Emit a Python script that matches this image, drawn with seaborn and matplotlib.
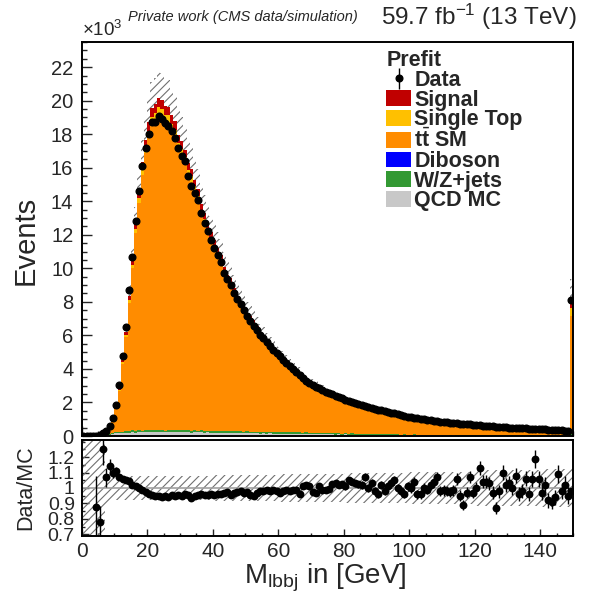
import numpy as np
import pandas as pd
import seaborn as sns
import matplotlib
matplotlib.use("Agg")
import matplotlib.pyplot as plt
from matplotlib.ticker import MultipleLocator, FixedLocator, FixedFormatter
from matplotlib.patches import Patch

sns.set_theme(style="ticks")
plt.rcParams['font.family'] = ['Liberation Sans', 'DejaVu Sans']
plt.rcParams['mathtext.fontset'] = 'custom'
plt.rcParams['mathtext.rm'] = 'Liberation Sans'
plt.rcParams['mathtext.it'] = 'Liberation Sans:italic'
plt.rcParams['mathtext.bf'] = 'Liberation Sans:bold'
plt.rcParams['hatch.linewidth'] = 0.8

# ---------------- data (thousands of events per 1 GeV bin, 0..150 GeV) -------------
bin_lo, bin_hi, bin_w = 0, 150, 1

data_k = [0.005, 0.005, 0.01, 0.015, 0.02, 0.06, 0.15, 0.3, 0.6, 1.06,
          1.86, 3.05, 4.8, 6.5, 8.7, 10.7, 12.8, 14.6, 16.1, 17.2,
          18.0, 18.7, 18.75, 19.1, 18.9, 18.65, 18.5, 18.2, 17.8, 17.15,
          16.7, 16.4, 15.5, 14.9, 14.5, 14.1, 13.3, 12.7, 12.2, 11.7,
          11.2, 10.8, 10.4, 9.75, 9.35, 9.0, 8.55, 8.15, 7.85, 7.5,
          7.15, 6.85, 6.55, 6.35, 6.05, 5.85, 5.6, 5.35, 5.15, 4.95,
          4.75, 4.55, 4.35, 4.15, 3.98, 3.8, 3.62, 3.45, 3.3, 3.17,
          3.05, 2.94, 2.84, 2.74, 2.64, 2.56, 2.48, 2.4, 2.32, 2.24,
          2.17, 2.1, 2.04, 1.98, 1.92, 1.86, 1.8, 1.74, 1.69, 1.63,
          1.58, 1.53, 1.49, 1.44, 1.4, 1.35, 1.3, 1.25, 1.2, 1.16,
          1.12, 1.09, 1.06, 1.03, 1.0, 0.97, 0.94, 0.91, 0.88, 0.86,
          0.84, 0.82, 0.8, 0.78, 0.76, 0.74, 0.72, 0.71, 0.69, 0.67,
          0.66, 0.64, 0.62, 0.61, 0.59, 0.57, 0.56, 0.54, 0.52, 0.51,
          0.5, 0.49, 0.48, 0.47, 0.46, 0.45, 0.44, 0.43, 0.42, 0.41,
          0.4, 0.39, 0.38, 0.37, 0.35, 0.34, 0.33, 0.32, 0.31, 8.1]

ratio = [np.nan, np.nan, np.nan, np.nan, 0.88, 0.78, 1.25, 1.07, 1.14, 1.10,
         1.11, 1.07, 1.06, 1.05, 1.045, 1.02, 1.01, 1.0, 0.985, 0.973,
         0.962, 0.956, 0.948, 0.948, 0.942, 0.948, 0.942, 0.952, 0.948, 0.956,
         0.948, 0.96, 0.952, 0.937, 0.948, 0.958, 0.962, 0.956, 0.956, 0.962,
         0.958, 0.962, 0.962, 0.966, 0.976, 0.955, 0.966, 0.976, 0.978, 0.968,
         0.972, 0.958, 0.948, 0.968, 0.982, 0.978, 0.985, 0.98, 0.984, 0.978,
         0.97, 0.978, 0.984, 0.98, 0.99, 0.985, 0.96, 1.015, 1.02, 1.01,
         0.975, 0.97, 1.012, 0.99, 0.99, 0.995, 1.025, 1.03, 1.02, 1.025,
         1.01, 1.05, 1.04, 1.03, 1.025, 1.02, 1.07, 1.0, 1.03, 0.98,
         0.96, 1.02, 0.98, 1.01, 1.03, 1.05, 1.0, 0.98, 0.96, 1.01,
         1.0, 1.04, 0.96, 0.96, 1.0, 0.99, 1.02, 1.04, 1.07, 0.98,
         0.985, 0.98, 0.975, 0.985, 1.06, 0.95, 0.89, 0.97, 1.07, 0.97,
         1.0, 1.13, 1.04, 1.04, 1.03, 0.97, 0.87, 0.98, 1.1, 1.02,
         1.03, 1.0, 1.08, 0.96, 0.98, 1.06, 0.96, 1.06, 1.19, 1.06,
         0.97, 1.02, 0.92, 0.91, 0.94, 1.09, 0.98, 1.02, 0.95, 0.98]

signal = [0, 0, 0, 0, 0, 0, 0, 0.005, 0.015, 0.03,
          0.05, 0.08, 0.12, 0.17, 0.22, 0.28, 0.34, 0.39, 0.43, 0.47,
          0.5, 0.52, 0.53, 0.54, 0.54, 0.53, 0.52, 0.51, 0.5, 0.48,
          0.47, 0.46, 0.44, 0.42, 0.41, 0.4, 0.37, 0.36, 0.34, 0.33,
          0.31, 0.3, 0.29, 0.27, 0.26, 0.25, 0.24, 0.23, 0.22, 0.21,
          0.2, 0.19, 0.18, 0.18, 0.17, 0.16, 0.16, 0.15, 0.14, 0.14,
          0.13, 0.13, 0.12, 0.12, 0.11, 0.11, 0.1, 0.1, 0.09, 0.09,
          0.09, 0.08, 0.08, 0.08, 0.07, 0.07, 0.07, 0.07, 0.06, 0.06,
          0.06, 0.06, 0.06, 0.06, 0.05, 0.05, 0.05, 0.05, 0.05, 0.05,
          0.04, 0.04, 0.04, 0.04, 0.04, 0.04, 0.04, 0.04, 0.03, 0.03,
          0.03, 0.03, 0.03, 0.03, 0.03, 0.03, 0.03, 0.03, 0.03, 0.02,
          0.02, 0.02, 0.02, 0.02, 0.02, 0.02, 0.02, 0.02, 0.02, 0.02,
          0.02, 0.02, 0.02, 0.02, 0.02, 0.02, 0.02, 0.02, 0.02, 0.01,
          0.01, 0.01, 0.01, 0.01, 0.01, 0.01, 0.01, 0.01, 0.01, 0.01,
          0.01, 0.01, 0.01, 0.01, 0.01, 0.01, 0.01, 0.01, 0.01, 0.65]

single_top = [0, 0, 0, 0, 0, 0, 0, 0.005, 0.01, 0.02,
              0.04, 0.06, 0.09, 0.13, 0.17, 0.21, 0.25, 0.29, 0.32, 0.35,
              0.37, 0.39, 0.4, 0.4, 0.4, 0.4, 0.39, 0.38, 0.37, 0.36,
              0.35, 0.34, 0.33, 0.32, 0.31, 0.3, 0.28, 0.27, 0.26, 0.25,
              0.24, 0.23, 0.22, 0.21, 0.2, 0.19, 0.18, 0.17, 0.17, 0.16,
              0.15, 0.15, 0.14, 0.14, 0.13, 0.13, 0.12, 0.12, 0.11, 0.11,
              0.1, 0.1, 0.1, 0.09, 0.09, 0.09, 0.08, 0.08, 0.08, 0.07,
              0.07, 0.07, 0.07, 0.06, 0.06, 0.06, 0.06, 0.06, 0.05, 0.05,
              0.05, 0.05, 0.05, 0.05, 0.04, 0.04, 0.04, 0.04, 0.04, 0.04,
              0.04, 0.04, 0.03, 0.03, 0.03, 0.03, 0.03, 0.03, 0.03, 0.03,
              0.03, 0.03, 0.03, 0.03, 0.03, 0.02, 0.02, 0.02, 0.02, 0.02,
              0.02, 0.02, 0.02, 0.02, 0.02, 0.02, 0.02, 0.02, 0.02, 0.02,
              0.02, 0.02, 0.02, 0.02, 0.02, 0.02, 0.02, 0.02, 0.02, 0.02,
              0.02, 0.02, 0.01, 0.01, 0.01, 0.01, 0.01, 0.01, 0.01, 0.01,
              0.01, 0.01, 0.01, 0.01, 0.01, 0.01, 0.01, 0.01, 0.01, 0.45]

diboson = [0, 0, 0, 0, 0, 0, 0, 0, 0, 0.002,
           0.005, 0.005, 0.005, 0.005, 0.005, 0.005, 0.005, 0.005, 0.005, 0.005,
           0.005, 0.005, 0.005, 0.005, 0.005, 0.005, 0.005, 0.005, 0.005, 0.005,
           0.005, 0.005, 0.005, 0.005, 0.005, 0.005, 0.005, 0.005, 0.005, 0.005,
           0.004, 0.004, 0.004, 0.004, 0.004, 0.004, 0.004, 0.004, 0.004, 0.004,
           0.004, 0.004, 0.004, 0.004, 0.004, 0.004, 0.004, 0.004, 0.004, 0.004,
           0.003, 0.003, 0.003, 0.003, 0.003, 0.003, 0.003, 0.003, 0.003, 0.003,
           0.003, 0.003, 0.003, 0.003, 0.003, 0.003, 0.003, 0.003, 0.003, 0.003,
           0.003, 0.003, 0.003, 0.003, 0.003, 0.003, 0.003, 0.003, 0.003, 0.003,
           0.002, 0.002, 0.002, 0.002, 0.002, 0.002, 0.002, 0.002, 0.002, 0.002,
           0.002, 0.002, 0.002, 0.002, 0.002, 0.002, 0.002, 0.002, 0.002, 0.002,
           0.002, 0.002, 0.002, 0.002, 0.002, 0.002, 0.002, 0.002, 0.002, 0.002,
           0.002, 0.002, 0.002, 0.002, 0.002, 0.002, 0.002, 0.002, 0.002, 0.002,
           0.002, 0.002, 0.002, 0.002, 0.002, 0.002, 0.002, 0.002, 0.002, 0.002,
           0.002, 0.002, 0.002, 0.002, 0.002, 0.002, 0.002, 0.002, 0.002, 0.01]

wz_jets = [0, 0, 0, 0, 0, 0.01, 0.01, 0.02, 0.03, 0.05,
           0.06, 0.08, 0.07, 0.1, 0.09, 0.11, 0.08, 0.12, 0.1, 0.09,
           0.11, 0.1, 0.12, 0.09, 0.11, 0.1, 0.13, 0.1, 0.11, 0.12,
           0.1, 0.12, 0.09, 0.11, 0.13, 0.1, 0.11, 0.12, 0.1, 0.11,
           0.12, 0.1, 0.11, 0.12, 0.1, 0.11, 0.13, 0.1, 0.11, 0.1,
           0.12, 0.1, 0.11, 0.09, 0.11, 0.1, 0.11, 0.09, 0.1, 0.11,
           0.09, 0.1, 0.09, 0.1, 0.08, 0.1, 0.09, 0.08, 0.09, 0.08,
           0.09, 0.08, 0.07, 0.08, 0.08, 0.07, 0.08, 0.07, 0.08, 0.06,
           0.07, 0.06, 0.07, 0.06, 0.06, 0.07, 0.05, 0.06, 0.05, 0.06,
           0.05, 0.05, 0.06, 0.05, 0.04, 0.05, 0.05, 0.04, 0.05, 0.04,
           0.04, 0.05, 0.04, 0.04, 0.04, 0.03, 0.04, 0.04, 0.03, 0.04,
           0.03, 0.03, 0.04, 0.03, 0.03, 0.03, 0.03, 0.03, 0.02, 0.03,
           0.03, 0.02, 0.03, 0.02, 0.02, 0.03, 0.02, 0.02, 0.02, 0.02,
           0.02, 0.02, 0.02, 0.02, 0.02, 0.02, 0.02, 0.02, 0.01, 0.02,
           0.02, 0.01, 0.02, 0.01, 0.01, 0.01, 0.01, 0.01, 0.01, 0.05]

qcd = [0, 0, 0, 0, 0.01, 0.01, 0.02, 0.04, 0.08, 0.12,
       0.16, 0.18, 0.17, 0.2, 0.19, 0.22, 0.2, 0.23, 0.21, 0.24,
       0.22, 0.25, 0.23, 0.24, 0.26, 0.22, 0.25, 0.23, 0.24, 0.21,
       0.23, 0.22, 0.24, 0.2, 0.22, 0.21, 0.23, 0.19, 0.21, 0.2,
       0.18, 0.2, 0.19, 0.17, 0.19, 0.18, 0.16, 0.18, 0.17, 0.15,
       0.17, 0.16, 0.15, 0.16, 0.14, 0.15, 0.13, 0.15, 0.14, 0.13,
       0.14, 0.12, 0.13, 0.12, 0.13, 0.11, 0.12, 0.11, 0.12, 0.1,
       0.11, 0.1, 0.11, 0.09, 0.1, 0.09, 0.1, 0.08, 0.09, 0.08,
       0.09, 0.08, 0.08, 0.07, 0.08, 0.07, 0.07, 0.06, 0.07, 0.06,
       0.06, 0.06, 0.05, 0.06, 0.05, 0.05, 0.05, 0.04, 0.05, 0.04,
       0.04, 0.04, 0.04, 0.03, 0.04, 0.03, 0.03, 0.03, 0.03, 0.03,
       0.03, 0.03, 0.02, 0.03, 0.02, 0.02, 0.02, 0.02, 0.02, 0.02,
       0.02, 0.02, 0.02, 0.02, 0.02, 0.02, 0.02, 0.01, 0.02, 0.01,
       0.01, 0.01, 0.01, 0.01, 0.01, 0.01, 0.01, 0.01, 0.01, 0.01,
       0.01, 0.01, 0.01, 0.01, 0.01, 0.01, 0.01, 0.01, 0.01, 0.05]

# relative MC uncertainty (hatched band)
mc_unc = [1.0, 1.0, 1.0, 1.0, 1.0, 1.0, 0.3, 0.12, 0.09, 0.082,
          0.08, 0.08, 0.08, 0.08, 0.08, 0.08, 0.08, 0.08, 0.08, 0.08,
          0.08, 0.08, 0.08, 0.08, 0.08, 0.08, 0.08, 0.08, 0.08, 0.08,
          0.08, 0.08, 0.08, 0.08, 0.08, 0.08, 0.08, 0.08, 0.08, 0.08,
          0.085, 0.085, 0.085, 0.085, 0.085, 0.085, 0.085, 0.085, 0.085, 0.085,
          0.085, 0.085, 0.085, 0.085, 0.085, 0.085, 0.085, 0.085, 0.085, 0.085,
          0.09, 0.09, 0.09, 0.09, 0.09, 0.09, 0.09, 0.09, 0.09, 0.09,
          0.09, 0.09, 0.09, 0.09, 0.09, 0.09, 0.09, 0.09, 0.09, 0.09,
          0.097, 0.097, 0.097, 0.097, 0.097, 0.097, 0.097, 0.097, 0.097, 0.097,
          0.097, 0.097, 0.097, 0.097, 0.097, 0.097, 0.097, 0.097, 0.097, 0.097,
          0.105, 0.105, 0.105, 0.105, 0.105, 0.105, 0.105, 0.105, 0.105, 0.105,
          0.105, 0.105, 0.105, 0.105, 0.105, 0.105, 0.105, 0.105, 0.105, 0.105,
          0.115, 0.115, 0.115, 0.115, 0.115, 0.115, 0.115, 0.115, 0.115, 0.115,
          0.115, 0.115, 0.115, 0.115, 0.115, 0.115, 0.115, 0.115, 0.115, 0.115,
          0.12, 0.12, 0.12, 0.12, 0.12, 0.12, 0.12, 0.12, 0.12, 0.13]

processes = ["QCD MC", "W/Z+jets", "Diboson", r"t$\bar{\mathbf{t}}$ SM", "Single Top", "Signal"]
colors = {"QCD MC": "#c8c8c8", "W/Z+jets": "#339933", "Diboson": "#0000ff",
          r"t$\bar{\mathbf{t}}$ SM": "#ff8c00", "Single Top": "#ffc000", "Signal": "#c00000"}

# ---------------- derived quantities -----------------------------------------
edges = np.arange(bin_lo, bin_hi + bin_w, bin_w, dtype=float)
centers = 0.5 * (edges[:-1] + edges[1:])
data_arr = np.array(data_k)
ratio_arr = np.array(ratio, dtype=float)
valid = np.isfinite(ratio_arr)
mc_total = np.where(valid, data_arr / np.where(valid, ratio_arr, 1.0), 0.0)
others = np.array(qcd) + np.array(wz_jets) + np.array(diboson) + np.array(single_top) + np.array(signal)
ttbar = np.clip(mc_total - others, 0, None)
comp = {"QCD MC": np.array(qcd), "W/Z+jets": np.array(wz_jets), "Diboson": np.array(diboson),
        r"t$\bar{\mathbf{t}}$ SM": ttbar, "Single Top": np.array(single_top), "Signal": np.array(signal)}
stack_tot = sum(comp.values())
unc = np.array(mc_unc)

data_err = np.sqrt(data_arr * 1000.0) / 1000.0

# ---------------- figure --------------------------------------------------------
W, H = 589, 597
fig = plt.figure(figsize=(W / 100, H / 100), dpi=100)
x0, x1 = 81.7, 573.0
ax = fig.add_axes([x0 / W, 1 - 436 / H, (x1 - x0) / W, (436 - 42) / H])
axr = fig.add_axes([x0 / W, 1 - 536 / H, (x1 - x0) / W, (536 - 440) / H])

# hatched uncertainty band (drawn first; the stack covers its lower half)
hi = stack_tot * (1 + unc)
lo = stack_tot * (1 - unc)
ax.fill_between(edges, np.append(lo, lo[-1]), np.append(hi, hi[-1]), step="post",
                facecolor="none", edgecolor="#707070", hatch="////", linewidth=0, zorder=1)

# stacked histogram: draw cumulative sums from the top layer down
cum = np.zeros_like(centers)
cums = []
for p in processes:
    cum = cum + comp[p]
    cums.append((p, cum.copy()))
for p, c in reversed(cums):
    df = pd.DataFrame({"m": centers, "w": c})
    sns.histplot(data=df, x="m", weights="w", binwidth=bin_w, binrange=(bin_lo, bin_hi),
                 element="step", fill=True, color=colors[p], alpha=1.0, linewidth=0,
                 ax=ax, zorder=2)

# data points
cont = ax.errorbar(centers, data_arr, yerr=data_err, fmt="o", color="black",
                   markersize=4.8, elinewidth=1, capsize=0, zorder=4)

ax.set_xlim(bin_lo, bin_hi)
ax.set_ylim(0, 23.5)
ax.set_xlabel("")
ax.set_ylabel("")
ax.yaxis.set_major_locator(MultipleLocator(2))
ax.yaxis.set_minor_locator(MultipleLocator(0.5))
ax.xaxis.set_major_locator(MultipleLocator(20))
ax.xaxis.set_minor_locator(MultipleLocator(5))
ax.tick_params(axis="x", which="both", labelbottom=False, direction="in")
ax.tick_params(axis="y", which="both", direction="in", labelsize=14.5, pad=6)
ax.tick_params(which="major", length=7, width=1)
ax.tick_params(which="minor", length=3.5, width=1)
for s in ax.spines.values():
    s.set_linewidth(1.4)
    s.set_color("black")
    s.set_zorder(6)

# legend
handles = [cont] + [Patch(facecolor=colors[p], edgecolor="none") for p in reversed(processes)]
labels = ["Data"] + list(reversed(processes))
leg = ax.legend(handles, labels, loc="upper left", bbox_to_anchor=(0.62, 0.979),
                frameon=False, title="Prefit", prop={"weight": "bold", "size": 15.5},
                title_fontproperties={"weight": "bold", "size": 15.5},
                handlelength=1.15, handleheight=0.75, handletextpad=0.15,
                labelspacing=-0.06, borderaxespad=0, borderpad=0.0, alignment="left")

# ---------------- ratio panel ---------------------------------------------------
rb_hi = 1 + unc
rb_lo = 1 - unc
axr.fill_between(edges, np.append(rb_lo, rb_lo[-1]), np.append(rb_hi, rb_hi[-1]), step="post",
                 facecolor="none", edgecolor="#707070", hatch="////", linewidth=0, zorder=1)
axr.axhline(1.0, color="#a0a0a0", linewidth=1.2, zorder=2)
rerr = np.where(valid, data_err / np.where(mc_total > 0, mc_total, 1.0), 0.0)
sns.scatterplot(x=centers[valid], y=ratio_arr[valid], color="black", s=32,
                edgecolor="black", linewidth=0, ax=axr, zorder=4)
axr.errorbar(centers[valid], ratio_arr[valid], yerr=rerr[valid], fmt="none",
             ecolor="black", elinewidth=1, capsize=0, zorder=3)

axr.set_xlim(bin_lo, bin_hi)
axr.set_ylim(0.69, 1.31)
axr.set_xlabel("")
axr.set_ylabel("")
axr.yaxis.set_major_locator(FixedLocator([0.7, 0.8, 0.9, 1.0, 1.1, 1.2]))
axr.yaxis.set_major_formatter(FixedFormatter(["0.7", "0.8", "0.9", "1", "1.1", "1.2"]))
axr.yaxis.set_minor_locator(MultipleLocator(0.05))
axr.xaxis.set_major_locator(MultipleLocator(20))
axr.xaxis.set_minor_locator(MultipleLocator(5))
axr.tick_params(axis="both", which="both", direction="in")
axr.tick_params(axis="y", labelsize=14, pad=5)
axr.tick_params(axis="x", labelsize=15, pad=4)
axr.tick_params(which="major", length=5, width=1)
axr.tick_params(which="minor", length=2.5, width=1)
for s in axr.spines.values():
    s.set_linewidth(1.4)
    s.set_color("black")
    s.set_zorder(6)

# ---------------- texts ----------------------------------------------------------
fig.text(128 / W, 1 - 17 / H, "Private work (CMS data/simulation)", style="italic",
         fontsize=10.5, ha="left", va="center")
fig.text(577 / W, 1 - 17 / H, r"59.7 fb$^{\mathrm{-1}}$ (13 TeV)", fontsize=17.5,
         ha="right", va="center")
fig.text(82 / W, 1 - 30 / H, r"$\times$10$^{3}$", fontsize=13.5, ha="left", va="center")
fig.text(26 / W, 1 - 240 / H, "Events", rotation=90, fontsize=21, ha="center", va="center")
fig.text(26 / W, 1 - 488 / H, "Data/MC", rotation=90, fontsize=15.5, ha="center", va="center")
fig.text(325 / W, 1 - 578 / H, r"M$_{\mathrm{lbbj}}$ in [GeV]", fontsize=20,
         ha="center", va="center")

fig.savefig("out.png", dpi=100)
